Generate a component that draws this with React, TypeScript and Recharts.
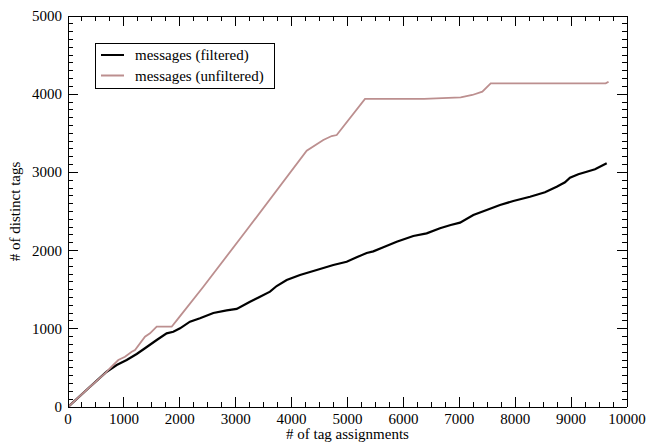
import React from 'react';
import { LineChart, Line, XAxis, YAxis, Legend, ReferenceLine } from 'recharts';

// tag growth curves
const FILTERED_X = [0, 350, 692, 871, 1050, 1229, 1377, 1587, 1765, 1884, 2004, 2182, 2361, 2600, 2839, 3018, 3256, 3435, 3614, 3733, 3912, 4150, 4449, 4746, 4985, 5164, 5343, 5462, 5641, 5880, 6177, 6416, 6655, 6846, 7013, 7251, 7490, 7728, 7966, 8265, 8533, 8742, 8891, 8980, 9129, 9279, 9428, 9637];
const FILTERED_Y = [0, 230, 451, 537, 601, 678, 751, 857, 942, 963, 1006, 1091, 1134, 1202, 1236, 1255, 1347, 1411, 1475, 1547, 1624, 1688, 1752, 1816, 1858, 1914, 1970, 1990, 2042, 2114, 2187, 2221, 2285, 2327, 2357, 2455, 2519, 2583, 2634, 2689, 2745, 2817, 2873, 2932, 2976, 3009, 3040, 3116];

const UNFILTERED_X = [0, 350, 662, 810, 900, 1020, 1140, 1199, 1377, 1467, 1587, 1855, 1973, 2421, 3197, 4270, 4567, 4717, 4807, 5313, 6369, 7025, 7233, 7412, 7562, 9619, 9670];
const UNFILTERED_Y = [0, 230, 431, 537, 601, 643, 707, 729, 899, 942, 1027, 1027, 1134, 1538, 2263, 3277, 3414, 3465, 3478, 3939, 3939, 3960, 3990, 4032, 4139, 4139, 4160];

const SERIES_NAMES = ['messages (filtered)', 'messages (unfiltered)'];
const SERIES_COLORS = ['#000000', '#bc8f8f'];

const X_MAX = 10000;
const Y_MAX = 5000;
const X_TICKS = Array.from({ length: 41 }, (_, i) => i * 250);
const Y_TICKS = Array.from({ length: 51 }, (_, i) => i * 100);

const FONT = '"Liberation Serif", "Times New Roman", serif';

// chart layout
const CHART_W = 654;
const CHART_H = 445;
const MARGIN = { top: 16, right: 27, bottom: 0, left: 0 };
const X_AXIS_H = 38;
const Y_AXIS_W = 68;
const PLOT_W = CHART_W - MARGIN.left - MARGIN.right - Y_AXIS_W;
const PLOT_H = CHART_H - MARGIN.top - MARGIN.bottom - X_AXIS_H;

const filteredData = FILTERED_X.map((x, i) => ({ x, y: FILTERED_Y[i] }));
const unfilteredData = UNFILTERED_X.map((x, i) => ({ x, y: UNFILTERED_Y[i] }));

const tickLen = (v: number) => (v % 1000 === 0 ? 10 : 5);
const frameStroke = { stroke: '#000', strokeWidth: 1, shapeRendering: 'crispEdges' as const };

// bottom tick also draws the matching tick on the top edge
const renderXTick = (props: any) => {
    const { x, y, payload, index } = props;
    const v = Number(payload.value);
    const len = tickLen(v);
    return (
        <g key={`xt-${index}`}>
            <line x1={x} y1={y} x2={x} y2={y - len} {...frameStroke} />
            <line x1={x} y1={y - PLOT_H} x2={x} y2={y - PLOT_H + len} {...frameStroke} />
            {v % 1000 === 0 && (
                <text x={x} y={y + 17} textAnchor="middle" style={{ fontSize: 15, fontFamily: FONT }} fill="#000">{v}</text>
            )}
        </g>
    );
};

// left tick also draws the matching tick on the right edge
const renderYTick = (props: any) => {
    const { x, y, payload, index } = props;
    const v = Number(payload.value);
    const len = tickLen(v);
    return (
        <g key={`yt-${index}`}>
            <line x1={x} y1={y} x2={x + len} y2={y} {...frameStroke} />
            <line x1={x + PLOT_W} y1={y} x2={x + PLOT_W - len} y2={y} {...frameStroke} />
            {v % 1000 === 0 && (
                <text x={x - 6} y={y + 5} textAnchor="end" style={{ fontSize: 15, fontFamily: FONT }} fill="#000">{v}</text>
            )}
        </g>
    );
};

const LegendBox = () => (
    <svg width={181} height={47} style={{ display: 'block' }}>
        <rect x={0.5} y={0.5} width={179} height={45} fill="#fff" stroke="#000" />
        {SERIES_NAMES.map((name, i) => (
            <g key={name}>
                <line x1={6} x2={29} y1={12 + i * 20.5} y2={12 + i * 20.5} stroke={SERIES_COLORS[i]} strokeWidth={2} />
                <text x={40} y={17 + i * 20.5} style={{ fontSize: 15, fontFamily: FONT }} fill="#000">{name}</text>
            </g>
        ))}
    </svg>
);

const App: React.FC = () => {
    return (
        <div style={{ position: 'absolute', left: 0, top: 0, background: '#fff', fontFamily: FONT }}>
            <LineChart width={CHART_W} height={CHART_H} margin={MARGIN}>
                <XAxis
                    dataKey="x"
                    type="number"
                    domain={[0, X_MAX]}
                    ticks={X_TICKS}
                    interval={0}
                    height={X_AXIS_H}
                    tickSize={0}
                    tickMargin={0}
                    tickLine={false}
                    tick={renderXTick}
                    axisLine={frameStroke}
                    allowDataOverflow
                    label={{ value: '# of tag assignments', position: 'insideBottom', offset: 6, fill: '#000', style: { fontSize: 15, fontFamily: FONT } }}
                />
                <YAxis
                    type="number"
                    domain={[0, Y_MAX]}
                    ticks={Y_TICKS}
                    interval={0}
                    width={Y_AXIS_W}
                    tickSize={0}
                    tickMargin={0}
                    tickLine={false}
                    tick={renderYTick}
                    axisLine={frameStroke}
                    allowDataOverflow
                    label={{ value: '# of distinct tags', angle: -90, position: 'insideLeft', offset: 15, fill: '#000', style: { textAnchor: 'middle', fontSize: 15, fontFamily: FONT } }}
                />
                <ReferenceLine x={X_MAX} {...frameStroke} />
                <ReferenceLine y={Y_MAX} {...frameStroke} />
                <Legend
                    layout="vertical"
                    align="center"
                    verticalAlign="middle"
                    content={<LegendBox />}
                    wrapperStyle={{ position: 'absolute', left: 95, top: 43, width: 181, height: 47 }}
                />
                <Line
                    data={filteredData}
                    dataKey="y"
                    name={SERIES_NAMES[0]}
                    type="linear"
                    stroke={SERIES_COLORS[0]}
                    strokeWidth={2.2}
                    dot={false}
                    isAnimationActive={false}
                />
                <Line
                    data={unfilteredData}
                    dataKey="y"
                    name={SERIES_NAMES[1]}
                    type="linear"
                    stroke={SERIES_COLORS[1]}
                    strokeWidth={1.8}
                    dot={false}
                    isAnimationActive={false}
                />
            </LineChart>
        </div>
    );
};

export default App;
